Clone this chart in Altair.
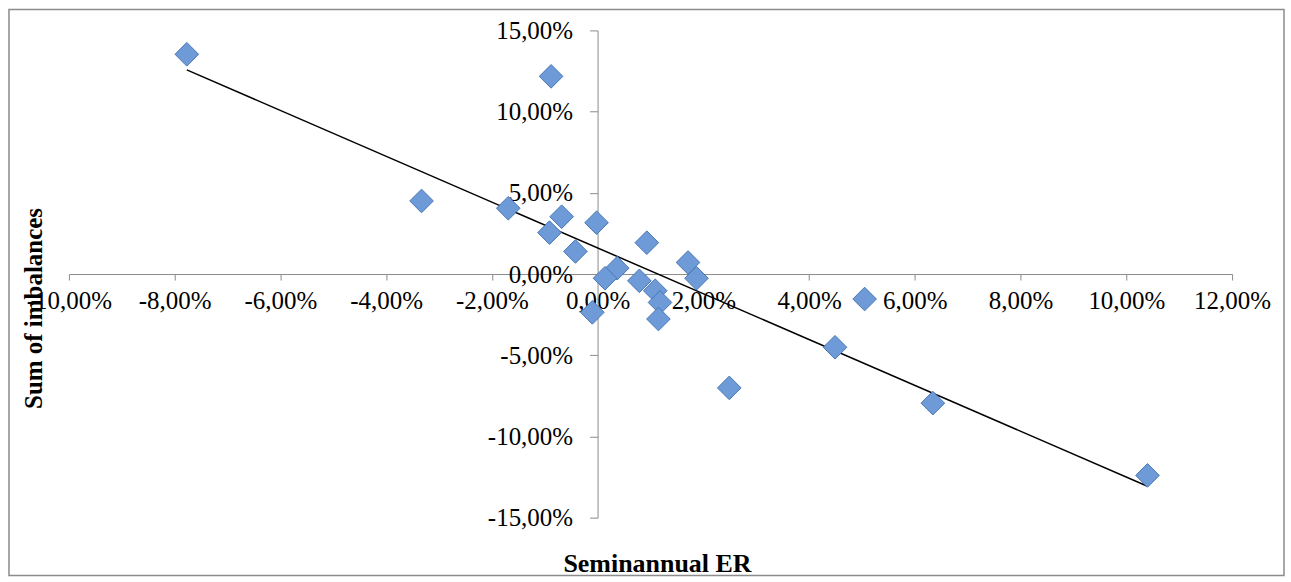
import altair as alt
import pandas as pd

# Seminannual ER (x) and Sum of imbalances (y), as fractions
er = [-0.0777, -0.0088, -0.0333, -0.0169, -0.0068, -0.0091, -0.0002, -0.0042,
      0.0093, 0.0171, 0.0187, 0.0037, 0.0014, 0.0079, 0.0109, 0.0118,
      0.0115, -0.0010, 0.0505, 0.0449, 0.0249, 0.0634, 0.1040]
imb = [0.1353, 0.1217, 0.0450, 0.0405, 0.0353, 0.0255, 0.0316, 0.0139,
       0.0193, 0.0071, -0.0026, 0.0036, -0.0026, -0.0042, -0.0103, -0.0175,
       -0.0277, -0.0236, -0.0154, -0.0451, -0.0701, -0.0795, -0.1240]

x_ticks = [-0.10, -0.08, -0.06, -0.04, -0.02, 0.0, 0.02, 0.04, 0.06, 0.08, 0.10, 0.12]
y_ticks = [-0.15, -0.10, -0.05, 0.0, 0.05, 0.10, 0.15]

df = pd.DataFrame({"er": er, "imb": imb})

FONT = "Liberation Serif"
W, H = 1165, 488
label_expr = "replace(replace(format(datum.value, '.2%'), '.', ','), '\u2212', '-')"

xscale = alt.Scale(domain=[-0.10, 0.12], nice=False, zero=False)
yscale = alt.Scale(domain=[-0.15, 0.15], nice=False, zero=False)

x_axis = alt.Axis(
    values=x_ticks, labelExpr=label_expr, offset=-244, grid=False,
    domainColor="#8c8c8c", tickColor="#8c8c8c", tickSize=6, labelPadding=9,
    labelFont=FONT, labelFontSize=25, labelColor="black", labelFlush=False,
    labelOverlap=False, title="Seminannual ER", titleFont=FONT, titleFontSize=26,
    titleFontWeight="bold", titleColor="black", titleX=589, titleY=290,
    titleAlign="center", titleBaseline="middle",
)
y_axis = alt.Axis(
    values=y_ticks, labelExpr=label_expr, offset=-529.5, grid=False,
    domainColor="#8c8c8c", tickColor="#8c8c8c", tickSize=8, labelPadding=17,
    labelFont=FONT, labelFontSize=25, labelColor="black", labelFlush=False,
    labelOverlap=False, title="Sum of imbalances", titleFont=FONT, titleFontSize=25,
    titleFontWeight="bold", titleColor="black", titleX=-565, titleY=278,
    titleAlign="center", titleBaseline="middle", titleAngle=270,
)

base = alt.Chart(df)

points = base.mark_point(
    shape="diamond", filled=True, size=560, fill="#6e9bd8", stroke="#4676b4",
    strokeWidth=1, opacity=1,
).encode(
    x=alt.X("er:Q", scale=xscale, axis=x_axis),
    y=alt.Y("imb:Q", scale=yscale, axis=y_axis),
)

trend = base.transform_regression("er", "imb").mark_line(
    color="black", strokeWidth=1.5
).encode(
    x=alt.X("er:Q", scale=xscale),
    y=alt.Y("imb:Q", scale=yscale),
)

border = alt.Chart(pd.DataFrame({"a": [0]})).mark_rect(
    fill=None, stroke="#8c8c8c", strokeWidth=1.5, clip=False
).encode(
    x=alt.value(-60), x2=alt.value(1217), y=alt.value(-21), y2=alt.value(546)
)

chart = alt.layer(border, trend, points).properties(
    width=W, height=H, background="white",
    padding={"left": 8, "top": 8, "right": 6, "bottom": 7},
).configure_view(stroke="transparent", strokeWidth=0)

chart.save("out.html", embed_options={"renderer": "svg", "actions": False})
